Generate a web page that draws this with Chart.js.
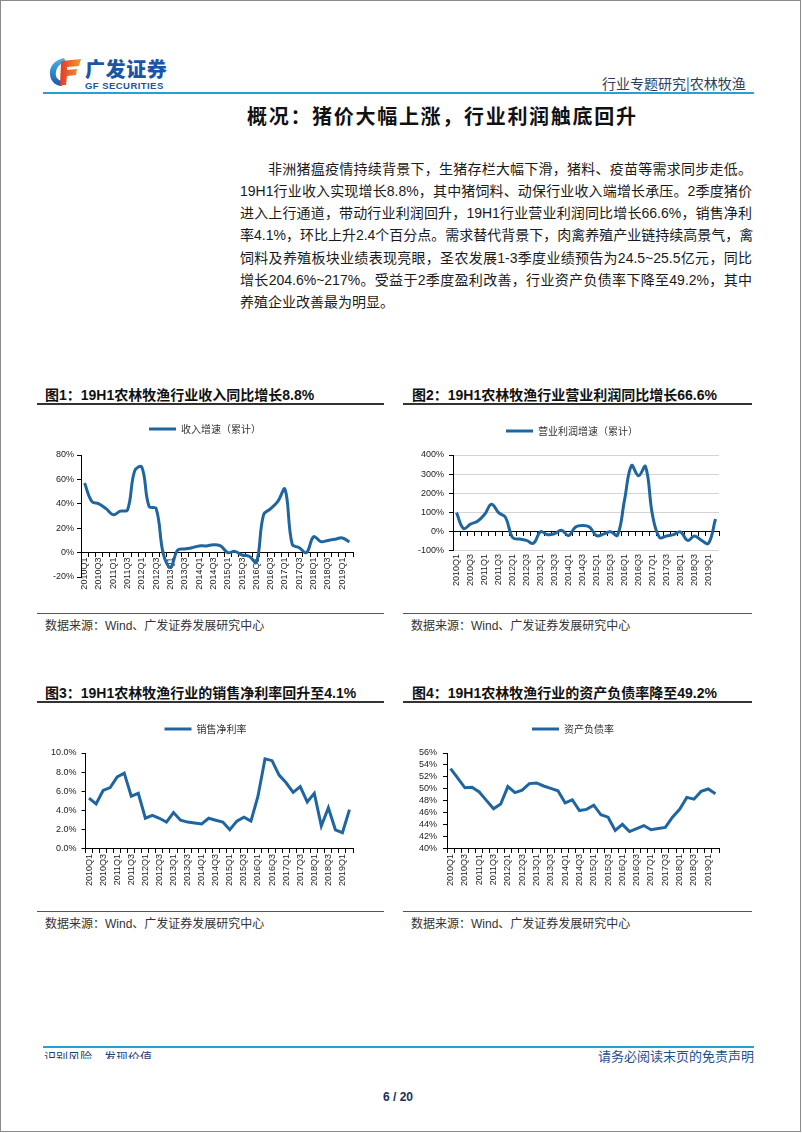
<!DOCTYPE html>
<html><head><meta charset="utf-8">
<script src="https://cdn.jsdelivr.net/npm/chart.js@4.4.1/dist/chart.umd.min.js"></script>
<style>
html,body{margin:0;padding:0;background:#fff;}
#page{position:relative;width:802px;height:1133px;overflow:hidden;background:#fff;font-family:"Liberation Sans","Noto Sans CJK SC",sans-serif;color:#1a1a1a;}
.abs{position:absolute;white-space:nowrap;}
canvas{position:absolute;}
.para{position:absolute;font-size:14px;height:22px;line-height:22px;text-align:justify;text-align-last:justify;white-space:nowrap;color:#1a1a1a;}
.ctitle{position:absolute;font-size:14px;font-weight:bold;line-height:18px;white-space:nowrap;color:#111;}
.rule{position:absolute;background:#333;}
.src{position:absolute;font-size:12px;line-height:16px;color:#333;white-space:nowrap;}
</style></head>
<body>
<div id="page">
  <div class="abs" style="left:0;top:0;width:799px;height:1130px;border:1px solid #8a8a8a;"></div>

  <!-- header -->
  <svg class="abs" style="left:48px;top:56px" width="34" height="32" viewBox="0 0 34 32">
    <defs>
      <linearGradient id="gb" x1="0" y1="0" x2="0" y2="1"><stop offset="0" stop-color="#4fb3ea"/><stop offset="1" stop-color="#1a58a8"/></linearGradient>
      <linearGradient id="gr" x1="0" y1="0" x2="1" y2="0"><stop offset="0" stop-color="#e23a2a"/><stop offset="1" stop-color="#f29a2a"/></linearGradient>
    </defs>
    <path d="M16 2 C6 4 1 11 2 19 C3 26 8 30 14 30 L14 25 C9 24 7 20 8 16 C9 10 13 7 18 6 Z" fill="url(#gb)"/>
    <path d="M14 5 L33 3 L31 10 L19 11 L19 14 L29 13 L28 19 L19 20 L18 29 L12 29 L13 7 Z" fill="url(#gr)"/>
  </svg>
  <div class="abs" style="left:85px;top:57px;font-size:20px;font-weight:900;color:#1b55a6;letter-spacing:0.6px;font-family:'Noto Sans CJK SC';line-height:24px;">广发证券</div>
  <div class="abs" style="left:85px;top:80px;font-size:9.5px;font-weight:bold;color:#1b55a6;letter-spacing:0.45px;line-height:11px;">GF SECURITIES</div>
  <div class="abs" style="left:602px;top:74px;font-size:14px;color:#2d3e5c;line-height:18px;font-family:'Noto Sans CJK SC';">行业专题研究|农林牧渔</div>
  <div class="abs" style="left:43px;top:92px;width:711px;height:2px;background:#27a0d8;"></div>

  <div class="abs" style="left:247px;top:103px;font-size:20px;font-weight:bold;letter-spacing:1.7px;line-height:26px;color:#111;font-family:'Noto Sans CJK SC';">概况：猪价大幅上涨，行业利润触底回升</div>

  <div class="para" style="left:268px;top:158px;width:484px;">非洲猪瘟疫情持续背景下，生猪存栏大幅下滑，猪料、疫苗等需求同步走低。</div>
  <div class="para" style="left:240px;top:180px;width:512px;">19H1行业收入实现增长8.8%，其中猪饲料、动保行业收入端增长承压。2季度猪价</div>
  <div class="para" style="left:240px;top:202px;width:512px;">进入上行通道，带动行业利润回升，19H1行业营业利润同比增长66.6%，销售净利</div>
  <div class="para" style="left:240px;top:224px;width:512px;">率4.1%，环比上升2.4个百分点。需求替代背景下，肉禽养殖产业链持续高景气，禽</div>
  <div class="para" style="left:240px;top:247px;width:512px;">饲料及养殖板块业绩表现亮眼，圣农发展1-3季度业绩预告为24.5~25.5亿元，同比</div>
  <div class="para" style="left:240px;top:269px;width:512px;">增长204.6%~217%。受益于2季度盈利改善，行业资产负债率下降至49.2%，其中</div>
  <div class="para" style="left:240px;top:291px;text-align:left;text-align-last:left;">养殖企业改善最为明显。</div>

  <!-- chart titles / rules / sources -->
  <div class="ctitle" style="left:45px;top:386px;">图1：19H1农林牧渔行业收入同比增长8.8%</div>
  <div class="rule" style="left:37px;top:403px;width:347px;height:2px;"></div>
  <div class="ctitle" style="left:412px;top:386px;">图2：19H1农林牧渔行业营业利润同比增长66.6%</div>
  <div class="rule" style="left:403px;top:403px;width:349px;height:2px;"></div>
  <div class="rule" style="left:37px;top:613px;width:347px;height:1px;background:#555;"></div>
  <div class="rule" style="left:403px;top:613px;width:349px;height:1px;background:#555;"></div>
  <div class="src" style="left:45px;top:618px;">数据来源：Wind、广发证券发展研究中心</div>
  <div class="src" style="left:411px;top:618px;">数据来源：Wind、广发证券发展研究中心</div>

  <div class="ctitle" style="left:45px;top:684px;">图3：19H1农林牧渔行业的销售净利率回升至4.1%</div>
  <div class="rule" style="left:37px;top:701px;width:347px;height:2px;"></div>
  <div class="ctitle" style="left:412px;top:684px;">图4：19H1农林牧渔行业的资产负债率降至49.2%</div>
  <div class="rule" style="left:403px;top:701px;width:349px;height:2px;"></div>
  <div class="rule" style="left:37px;top:911px;width:347px;height:1px;background:#555;"></div>
  <div class="rule" style="left:403px;top:911px;width:349px;height:1px;background:#555;"></div>
  <div class="src" style="left:45px;top:916px;">数据来源：Wind、广发证券发展研究中心</div>
  <div class="src" style="left:411px;top:916px;">数据来源：Wind、广发证券发展研究中心</div>

  <canvas id="c1"></canvas>
  <canvas id="c2"></canvas>
  <canvas id="c3"></canvas>
  <canvas id="c4"></canvas>

  <!-- footer -->
  <div class="abs" style="left:43px;top:1046px;width:711px;height:2px;background:#27a0d8;"></div>
  <div class="abs" style="left:44px;top:1050px;height:9px;overflow:hidden;font-size:12px;line-height:14px;color:#1f3f77;font-family:'Noto Sans CJK SC';">识别风险，发现价值</div>
  <div class="abs" style="left:598px;top:1048px;font-size:13px;line-height:16px;color:#1f4e8c;font-family:'Noto Sans CJK SC';">请务必阅读末页的免责声明</div>
  <div class="abs" style="left:383px;top:1090px;font-size:12px;font-weight:bold;line-height:14px;color:#1a3060;">6 / 20</div>
</div>

<script>
// ---- data ----
const quarters = ['2010Q1','2010Q2','2010Q3','2010Q4','2011Q1','2011Q2','2011Q3','2011Q4',
  '2012Q1','2012Q2','2012Q3','2012Q4','2013Q1','2013Q2','2013Q3','2013Q4',
  '2014Q1','2014Q2','2014Q3','2014Q4','2015Q1','2015Q2','2015Q3','2015Q4',
  '2016Q1','2016Q2','2016Q3','2016Q4','2017Q1','2017Q2','2017Q3','2017Q4',
  '2018Q1','2018Q2','2018Q3','2018Q4','2019Q1','2019Q2'];
const revenueGrowth = [57,42,40,36, 31,34,35,67, 70,38,36,-1, -12,2,3,4, 5.5,5.5,6.5,5.5,
  0,1,-2,-3, -8,31,36,42, 52,7,4,0, 13,9,10,11, 12,8.8];
const profitGrowth = [100,17,40,55, 90,143,100,75, -30,-38,-45,-60, 0,-15,-10,8, -20,25,33,25,
  -20,-12,0,-18, 165,345,292,340, 87,-30,-22,-15, 0,-45,-22,-45, -60,66.6];
const netMargin = [5.3,4.7,6.1,6.4, 7.5,7.9,5.5,5.8, 3.2,3.5,3.2,2.8, 3.8,3.0,2.8,2.7, 2.6,3.2,3.0,2.8,
  2.0,2.9,3.3,2.9, 5.5,9.4,9.2,7.7, 6.9,5.9,6.5,4.9, 5.8,2.4,4.3,2.0, 1.7,4.1];
const debtRatio = [53.4,51.8,50.2,50.3, 49.5,48.1,46.7,47.5, 50.4,49.4,49.8,50.9, 51.0,50.5,50.1,49.7,
  47.7,48.2,46.4,46.6, 47.3,45.7,45.3,43.1, 44.1,42.9,43.4,43.9, 43.2,43.4,43.6,45.3,
  46.6,48.6,48.3,49.6, 50.0,49.2];
const seriesNames = ['收入增速（累计）','营业利润增速（累计）','销售净利率','资产负债率'];

// ---- styling ----
const BLUE = '#1f66a0';
const tickFont = {family:'"Liberation Sans", Arial, sans-serif', size:9};
const legendFont = {family:'"Noto Sans CJK SC", sans-serif', size:10};
const TICK_COLOR = '#222';

// legend spacing + horizontal placement (page coordinate of legend centre)
function legendPlace(gap, target, centerX){
  return {id:'legendPlace',
    beforeInit(chart){
      const fit = chart.legend.fit;
      chart.legend.fit = function(){ fit.call(this); this.height += gap; };
    },
    afterLayout(chart){
      const L = chart.legend;
      const canvasLeft = target.l - chart.chartArea.left;
      const cur = canvasLeft + (L.left + L.right) / 2;
      const dx = centerX - cur;
      L.left += dx; L.right += dx;
    }};
}
const xLabel = (v, i) => (i % 2 === 0 ? quarters[i] : '');

function makeConfig(o){
  return {
    type:'line',
    data:{labels:quarters, datasets:[{label:o.name, data:o.values, borderColor:BLUE, backgroundColor:BLUE,
      borderWidth:3, pointRadius:0, tension:o.tension, fill:false, xAxisID:'x', yAxisID:'y'}]},
    options:{
      responsive:false, maintainAspectRatio:false, animation:false, devicePixelRatio:1,
      layout:{padding:{left:6, right:14, top:0, bottom:o.padBottom}},
      plugins:{
        legend:{display:true, position:'top', labels:{usePointStyle:true, pointStyle:'line', pointStyleWidth:27,
          font:legendFont, color:'#333', padding:10}},
        tooltip:{enabled:false}
      },
      scales:o.scales
    },
    plugins:[legendPlace(o.gap, o.target, o.legendX)]
  };
}
function yAxis(min, max, step, fmt, pad, gridColor){
  return {min:min, max:max, position:'left',
    ticks:{stepSize:step, autoSkip:false, padding:pad, font:tickFont, color:TICK_COLOR, callback:fmt},
    grid: gridColor ? {drawOnChartArea:true, color:(c)=> (c.tick && c.tick.value===0 ? 'rgba(0,0,0,0)' : gridColor), tickColor:'#000', tickLength:4}
                    : {drawOnChartArea:false, color:'#000', tickLength:4},
    border:{display:true, color:'#000', width:1}};
}
function xTickOpts(pad){
  return {autoSkip:false, minRotation:90, maxRotation:90, padding:pad, font:tickFont, color:TICK_COLOR, callback:xLabel};
}

function setSize(cv,w,h){ cv.width=w; cv.height=h; cv.style.width=w+'px'; cv.style.height=h+'px'; }
function build(id, cfgFn, t){
  const cv = document.getElementById(id);
  const W0=360, H0=220;
  setSize(cv,W0,H0);
  let ch = new Chart(cv, cfgFn());
  let a = ch.chartArea;
  const W = Math.round(W0 + (t.r - t.l) - (a.right - a.left));
  const H = Math.round(H0 + (t.b - t.t) - (a.bottom - a.top));
  ch.destroy();
  setSize(cv,W,H);
  ch = new Chart(cv, cfgFn());
  a = ch.chartArea;
  cv.style.left = Math.round(t.l - a.left) + 'px';
  cv.style.top = Math.round(t.t - a.top) + 'px';
  return ch;
}

// Chart 1: revenue growth
const T1 = {l:81, r:353, t:455, b:577};
build('c1', () => makeConfig({name:seriesNames[0], values:revenueGrowth, tension:0.4, padBottom:16, gap:11,
  target:T1, legendX:205,
  scales:{
    x:{type:'category', offset:true, position:{y:0},
       grid:{display:true, drawOnChartArea:false, drawTicks:true, tickLength:4, color:'#000', offset:true},
       border:{display:true, color:'#000', width:1}, ticks:xTickOpts(1)},
    y:yAxis(-20, 80, 20, v => v + '%', 3, null)
  }}), T1);

// Chart 2: operating profit growth
const T2 = {l:453, r:719, t:455, b:551};
build('c2', () => makeConfig({name:seriesNames[1], values:profitGrowth, tension:0.4, padBottom:4, gap:9,
  target:T2, legendX:572,
  scales:{
    x:{type:'category', offset:true, position:'bottom', grid:{display:false, drawTicks:false},
       border:{display:false}, ticks:xTickOpts(3)},
    x2:{type:'category', labels:quarters, offset:true, position:{y:0},
       grid:{display:true, drawOnChartArea:false, drawTicks:true, tickLength:4, color:'#000', offset:true},
       border:{display:true, color:'#000', width:1}, ticks:{display:false}},
    y:yAxis(-100, 400, 100, v => v + '%', 5, '#d4d4d4')
  }}), T2);

// Chart 3: net margin
const T3 = {l:86, r:353, t:753, b:849};
build('c3', () => makeConfig({name:seriesNames[2], values:netMargin, tension:0, padBottom:4, gap:9,
  target:T3, legendX:206,
  scales:{
    x:{type:'category', offset:true, position:'bottom',
       grid:{display:true, drawOnChartArea:false, drawTicks:true, tickLength:4, color:'#000', offset:true},
       border:{display:true, color:'#000', width:1}, ticks:xTickOpts(1)},
    y:yAxis(0, 10, 2, v => v.toFixed(1) + '%', 5, null)
  }}), T3);

// Chart 4: debt ratio
const T4 = {l:447, r:719, t:753, b:849};
build('c4', () => makeConfig({name:seriesNames[3], values:debtRatio, tension:0, padBottom:4, gap:9,
  target:T4, legendX:573,
  scales:{
    x:{type:'category', offset:true, position:'bottom',
       grid:{display:true, drawOnChartArea:false, drawTicks:true, tickLength:4, color:'#000', offset:true},
       border:{display:true, color:'#000', width:1}, ticks:xTickOpts(1)},
    y:yAxis(40, 56, 2, v => Math.round(v) + '%', 6, null)
  }}), T4);
</script>
</body></html>
